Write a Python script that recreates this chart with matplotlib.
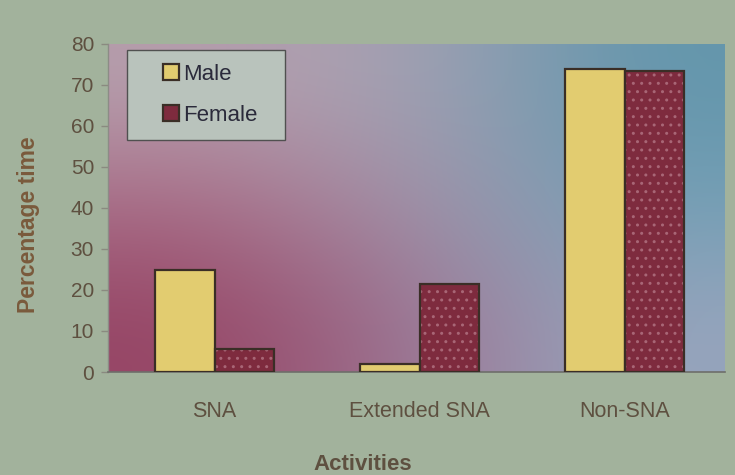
import numpy as np
import matplotlib
matplotlib.use("Agg")
import matplotlib.pyplot as plt
from matplotlib.lines import Line2D

# Share of time spent on each kind of activity, by sex
categories = ["SNA", "Extended SNA", "Non-SNA"]
male = [25, 2, 74]
female = [5.5, 21.5, 73.5]
series_names = ["Male", "Female"]
yticks = [0, 10, 20, 30, 40, 50, 60, 70, 80]

plt.rcParams["font.family"] = ["Liberation Sans", "DejaVu Sans"]

fig_bg = "#a2b29c"
male_col = "#e2cc70"
female_col = "#7e2b3e"
edge_col = "#3a2e26"
tick_col = "#5e5040"
label_col = "#7a5a3c"

fig = plt.figure(figsize=(7.35, 4.75), dpi=100, facecolor=fig_bg)
ax = fig.add_axes([108 / 735, 1 - 372 / 475, (725 - 108) / 735, (372 - 44) / 475])
ax.set_facecolor("none")

# Smooth backdrop inside the plotting area: crimson lower left to teal upper right
grid = np.array([
    [[182, 158, 172], [165, 162, 180], [98, 150, 172]],
    [[168, 105, 132], [166, 148, 170], [115, 160, 182]],
    [[150, 68, 100], [158, 118, 148], [150, 166, 190]],
], dtype=float) / 255.0
ax.imshow(grid, extent=[0, 1, 0, 1], transform=ax.transAxes, aspect="auto",
          interpolation="bicubic", zorder=0)

x = np.arange(len(categories))
w = 0.29

ax.bar(x - w / 2, male, width=w, color=male_col, edgecolor=edge_col,
       linewidth=1.6, zorder=3)
# female bars: dotted fill, then a dark outline on top
ax.bar(x + w / 2, female, width=w, color=female_col, edgecolor="#a86676",
       linewidth=0, hatch="..", zorder=3)
ax.bar(x + w / 2, female, width=w, fill=False, edgecolor=edge_col,
       linewidth=1.6, zorder=4)

ax.set_xlim(-0.52, 2.49)
ax.set_ylim(0, 80)
ax.set_yticks(yticks)
ax.set_xticks(x)
ax.set_xticklabels(categories)
ax.tick_params(axis="y", colors="#8a8a80", labelcolor=tick_col, labelsize=15,
               length=5, width=1, pad=5)
ax.tick_params(axis="x", length=0, labelcolor=tick_col, labelsize=15.5, pad=21)

for s in ("top", "right"):
    ax.spines[s].set_visible(False)
ax.spines["left"].set_color("#8c8c86")
ax.spines["bottom"].set_color("#6e6e6a")
ax.spines["left"].set_linewidth(1.0)
ax.spines["bottom"].set_linewidth(1.2)

fig.text(28 / 735, 1 - 225 / 475, "Percentage time", rotation=90, ha="center",
         va="center", fontsize=16.5, fontweight="bold", color=label_col)
fig.text(363 / 735, 1 - 465 / 475, "Activities", ha="center", va="center",
         fontsize=16, fontweight="bold", color=tick_col)

handles = [
    Line2D([], [], ls="none", marker="s", markersize=11.5,
           markerfacecolor=male_col, markeredgecolor=edge_col, markeredgewidth=1.6),
    Line2D([], [], ls="none", marker="s", markersize=11.5,
           markerfacecolor=female_col, markeredgecolor=edge_col, markeredgewidth=1.6),
]
leg_x0, leg_x1, leg_top = 127 / 735, 285 / 735, 1 - 50 / 475
leg = ax.legend(handles, series_names, loc="upper left", mode="expand",
                bbox_to_anchor=(leg_x0, leg_top - 0.2, leg_x1 - leg_x0, 0.2),
                bbox_transform=fig.transFigure, borderaxespad=0,
                fontsize=16, handlelength=2.7, handletextpad=-0.8,
                labelspacing=0.9, borderpad=0.62, fancybox=False,
                framealpha=1, facecolor="#b9c3bc", edgecolor="#505050")
leg.get_frame().set_linewidth(1.0)
for t in leg.get_texts():
    t.set_color("#2a2a3a")

fig.savefig("out.png", dpi=100, facecolor=fig_bg)
